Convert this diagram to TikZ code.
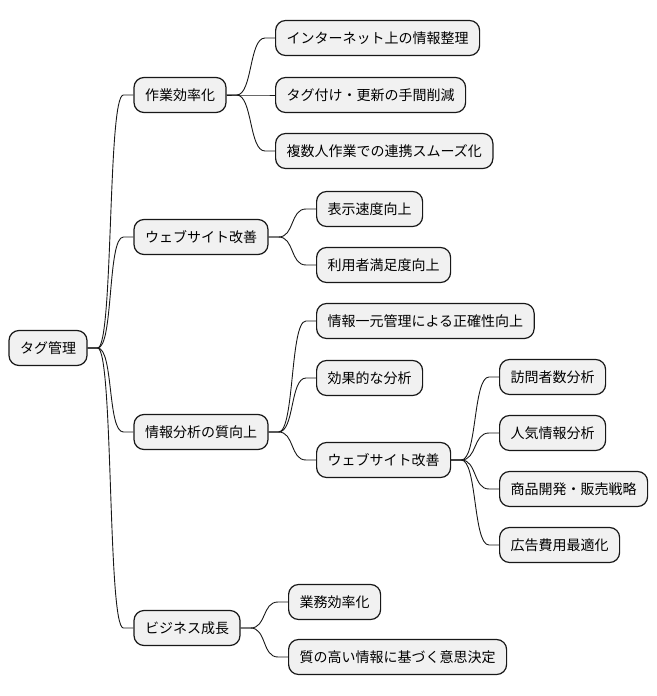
\documentclass[tikz,border=0pt]{standalone}
\usepackage{fontspec}
\setmainfont{Noto Sans CJK JP}
\usetikzlibrary{positioning}
\definecolor{boxfill}{HTML}{F1F1F1}
\definecolor{boxline}{HTML}{181818}
\newcommand{\branch}[2]{\draw[edge] (#1.east) -- ++(10pt,0) .. controls +(16pt,0) and +(-16pt,0) .. ([xshift=-10pt]#2.west) -- (#2.west);}

\begin{document}
\begin{tikzpicture}[
  x=1pt, y=-1pt,
  topic/.style={rectangle, draw=boxline, fill=boxfill, line width=1.2pt, rounded corners=10pt, minimum height=35pt, inner xsep=11pt, font=\fontsize{14}{17}\selectfont},
  edge/.style={draw=boxline, line width=0.9pt},
]
\useasboundingbox (0,0) rectangle (656,696);
% Root
\node[topic] (root) at (48,348) {タグ管理};

% First level
\node[topic] (work) at (180,95) {作業効率化};
\node[topic] (web) at (201,237) {ウェブサイト改善};
\node[topic] (info) at (201,432) {情報分析の質向上};
\node[topic] (biz) at (187,628) {ビジネス成長};

% Work children
\node[topic, anchor=west] (w1) at (275,38) {インターネット上の情報整理};
\node[topic, anchor=west] (w2) at (275,95) {タグ付け・更新の手間削減};
\node[topic, anchor=west] (w3) at (275,151) {複数人作業での連携スムーズ化};

% Web children
\node[topic, anchor=west] (s1) at (316,209) {表示速度向上};
\node[topic, anchor=west] (s2) at (316,265) {利用者満足度向上};

% Info children
\node[topic, anchor=west] (i1) at (316,321) {情報一元管理による正確性向上};
\node[topic, anchor=west] (i2) at (316,378) {効果的な分析};
\node[topic, anchor=west] (i3) at (316,460) {ウェブサイト改善};
\node[topic, anchor=west] (a1) at (499,377) {訪問者数分析};
\node[topic, anchor=west] (a2) at (499,433) {人気情報分析};
\node[topic, anchor=west] (a3) at (499,489) {商品開発・販売戦略};
\node[topic, anchor=west] (a4) at (499,545) {広告費用最適化};

% Biz children
\node[topic, anchor=west] (b1) at (288,602) {業務効率化};
\node[topic, anchor=west] (b2) at (288,657) {質の高い情報に基づく意思決定};

% Branches
\branch{root}{work}
\branch{root}{web}
\branch{root}{info}
\branch{root}{biz}
\branch{work}{w1}
\branch{work}{w2}
\branch{work}{w3}
\branch{web}{s1}
\branch{web}{s2}
\branch{info}{i1}
\branch{info}{i2}
\branch{info}{i3}
\branch{i3}{a1}
\branch{i3}{a2}
\branch{i3}{a3}
\branch{i3}{a4}
\branch{biz}{b1}
\branch{biz}{b2}
\end{tikzpicture}
\end{document}
